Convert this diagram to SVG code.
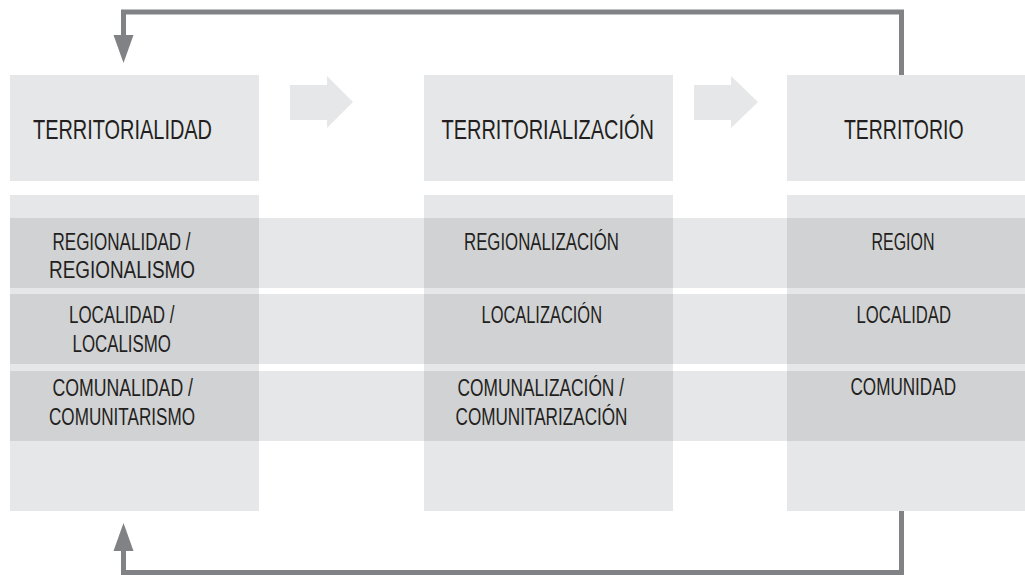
<svg xmlns="http://www.w3.org/2000/svg" width="1025" height="575" viewBox="0 0 1025 575">
  <defs>
    <style>
      .lt { fill: #e6e7e8; }
      .dk { fill: #d1d2d4; }
      .hd { font-family: "Liberation Sans Narrow", "Liberation Sans", Arial, sans-serif; font-size: 28px; fill: #231f20; }
      .tx { font-family: "Liberation Sans Narrow", "Liberation Sans", Arial, sans-serif; font-size: 23px; fill: #231f20; }
      .conn { fill: none; stroke: #808285; stroke-width: 5; }
      .head { fill: #808285; }
    </style>
  </defs>
  <rect width="1025" height="575" fill="#ffffff"/>

  <!-- columns background -->
  <g id="columns">
    <rect class="lt" x="10" y="195" width="249" height="316"/>
    <rect class="lt" x="424" y="195" width="249" height="316"/>
    <rect class="lt" x="787" y="195" width="249" height="316"/>
  </g>

  <!-- horizontal bands -->
  <g id="bands">
    <rect class="lt" x="10" y="218" width="1015" height="70"/>
    <rect class="lt" x="10" y="294" width="1015" height="70"/>
    <rect class="lt" x="10" y="371" width="1015" height="70"/>
    <rect class="dk" x="10" y="218" width="249" height="70"/>
    <rect class="dk" x="10" y="294" width="249" height="70"/>
    <rect class="dk" x="10" y="371" width="249" height="70"/>
    <rect class="dk" x="424" y="218" width="249" height="70"/>
    <rect class="dk" x="424" y="294" width="249" height="70"/>
    <rect class="dk" x="424" y="371" width="249" height="70"/>
    <rect class="dk" x="787" y="218" width="249" height="70"/>
    <rect class="dk" x="787" y="294" width="249" height="70"/>
    <rect class="dk" x="787" y="371" width="249" height="70"/>
  </g>

  <!-- header nodes -->
  <g id="node-territorialidad">
    <rect class="lt" x="10" y="75" width="249" height="106"/>
    <text class="hd" x="33" y="139" textLength="179" lengthAdjust="spacingAndGlyphs">TERRITORIALIDAD</text>
  </g>
  <g id="node-territorializacion">
    <rect class="lt" x="424" y="75" width="249" height="106"/>
    <text class="hd" x="441.5" y="139" textLength="212.5" lengthAdjust="spacingAndGlyphs">TERRITORIALIZACIÓN</text>
  </g>
  <g id="node-territorio">
    <rect class="lt" x="787" y="75" width="249" height="106"/>
    <text class="hd" x="844" y="139" textLength="119.5" lengthAdjust="spacingAndGlyphs">TERRITORIO</text>
  </g>

  <!-- row cells -->
  <g id="cell-regionalidad">
    <text class="tx" x="52.5" y="249.5" textLength="138" lengthAdjust="spacingAndGlyphs">REGIONALIDAD /</text>
    <text class="tx" x="49" y="278" textLength="146" lengthAdjust="spacingAndGlyphs">REGIONALISMO</text>
  </g>
  <g id="cell-localidad-localismo">
    <text class="tx" x="69" y="323" textLength="105.5" lengthAdjust="spacingAndGlyphs">LOCALIDAD /</text>
    <text class="tx" x="72.5" y="351.5" textLength="98.5" lengthAdjust="spacingAndGlyphs">LOCALISMO</text>
  </g>
  <g id="cell-comunalidad">
    <text class="tx" x="52.5" y="395.5" textLength="140.5" lengthAdjust="spacingAndGlyphs">COMUNALIDAD /</text>
    <text class="tx" x="49" y="425" textLength="146" lengthAdjust="spacingAndGlyphs">COMUNITARISMO</text>
  </g>
  <g id="cell-regionalizacion">
    <text class="tx" x="464" y="249.5" textLength="155" lengthAdjust="spacingAndGlyphs">REGIONALIZACIÓN</text>
  </g>
  <g id="cell-localizacion">
    <text class="tx" x="481.5" y="323" textLength="120.5" lengthAdjust="spacingAndGlyphs">LOCALIZACIÓN</text>
  </g>
  <g id="cell-comunalizacion">
    <text class="tx" x="457.5" y="396" textLength="166.5" lengthAdjust="spacingAndGlyphs">COMUNALIZACIÓN /</text>
    <text class="tx" x="455.5" y="425" textLength="172" lengthAdjust="spacingAndGlyphs">COMUNITARIZACIÓN</text>
  </g>
  <g id="cell-region">
    <text class="tx" x="871.5" y="249.5" textLength="63" lengthAdjust="spacingAndGlyphs">REGION</text>
  </g>
  <g id="cell-localidad">
    <text class="tx" x="856.5" y="323" textLength="94.5" lengthAdjust="spacingAndGlyphs">LOCALIDAD</text>
  </g>
  <g id="cell-comunidad">
    <text class="tx" x="850.5" y="395" textLength="105.5" lengthAdjust="spacingAndGlyphs">COMUNIDAD</text>
  </g>

  <!-- connectors -->
  <g id="connectors">
    <polygon class="lt" points="290,85 327,85 327,76 353,102 327,128 327,120 290,120"/>
    <polygon class="lt" points="694,85 731,85 731,76 758,102 731,128 731,120 694,120"/>
    <path class="conn" d="M901.5,75 V12 H123.5 V38"/>
    <polygon class="head" points="113.5,35 133.5,35 123.5,63"/>
    <path class="conn" d="M901.5,511 V572.5 H123.5 V548"/>
    <polygon class="head" points="113.5,551 133.5,551 123.5,523"/>
  </g>
</svg>
